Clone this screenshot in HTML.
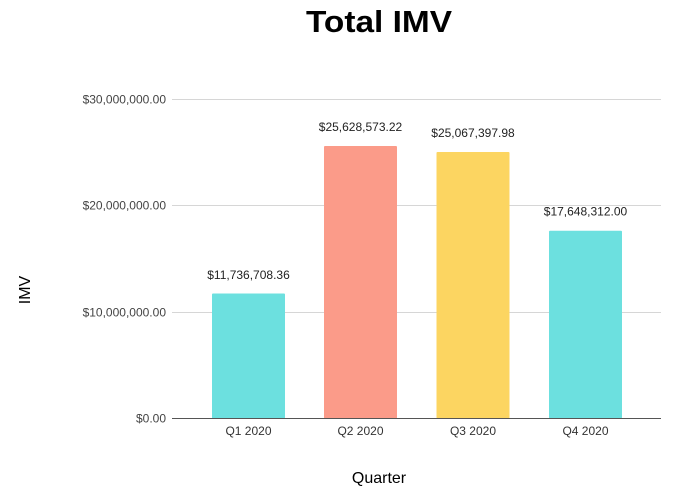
<!DOCTYPE html>
<html><head><meta charset="utf-8"><style>
html,body{margin:0;padding:0;background:#fff;}
svg{display:block;}
</style></head><body>
<svg width="687" height="493" viewBox="0 0 687 493" xmlns="http://www.w3.org/2000/svg">
<rect width="687" height="493" fill="#fff"/>
<text x="379" y="32" text-anchor="middle" font-family="Liberation Sans, sans-serif" font-weight="bold" font-size="31" fill="#000" textLength="146" lengthAdjust="spacingAndGlyphs">Total IMV</text>
<g stroke="#d6d6d6" stroke-width="1">
<line x1="172" y1="99.5" x2="661" y2="99.5"/>
<line x1="172" y1="205.5" x2="661" y2="205.5"/>
<line x1="172" y1="312.5" x2="661" y2="312.5"/>
</g>
<g font-family="Liberation Sans, sans-serif" font-size="12" fill="#444" text-anchor="end">
<text x="166" y="103.5">$30,000,000.00</text>
<text x="166" y="209.5">$20,000,000.00</text>
<text x="166" y="316.5">$10,000,000.00</text>
<text x="166" y="422.5">$0.00</text>
</g>
<rect x="212" y="293.5" width="73" height="125" fill="#6ce0df" rx="1"/>
<rect x="324" y="146" width="73" height="272.5" fill="#fb9b89" rx="1"/>
<rect x="436.5" y="152" width="73" height="266.5" fill="#fcd561" rx="1"/>
<rect x="549" y="230.7" width="73" height="187.8" fill="#6ce0df" rx="1"/>
<line x1="172" y1="418.5" x2="661" y2="418.5" stroke="#555" stroke-width="1"/>
<g font-family="Liberation Sans, sans-serif" font-size="12" fill="#222" text-anchor="middle">
<text x="248.5" y="279">$11,736,708.36</text>
<text x="360.5" y="131">$25,628,573.22</text>
<text x="473" y="137">$25,067,397.98</text>
<text x="585.5" y="215.5">$17,648,312.00</text>
</g>
<g font-family="Liberation Sans, sans-serif" font-size="12" fill="#333" text-anchor="middle">
<text x="248.5" y="435">Q1 2020</text>
<text x="360.5" y="435">Q2 2020</text>
<text x="473" y="435">Q3 2020</text>
<text x="585.5" y="435">Q4 2020</text>
</g>
<text x="379" y="483" text-anchor="middle" font-family="Liberation Sans, sans-serif" font-size="16" fill="#000">Quarter</text>
<text transform="translate(30,290) rotate(-90)" text-anchor="middle" font-family="Liberation Sans, sans-serif" font-size="16" fill="#000">IMV</text>
</svg>
</body></html>
